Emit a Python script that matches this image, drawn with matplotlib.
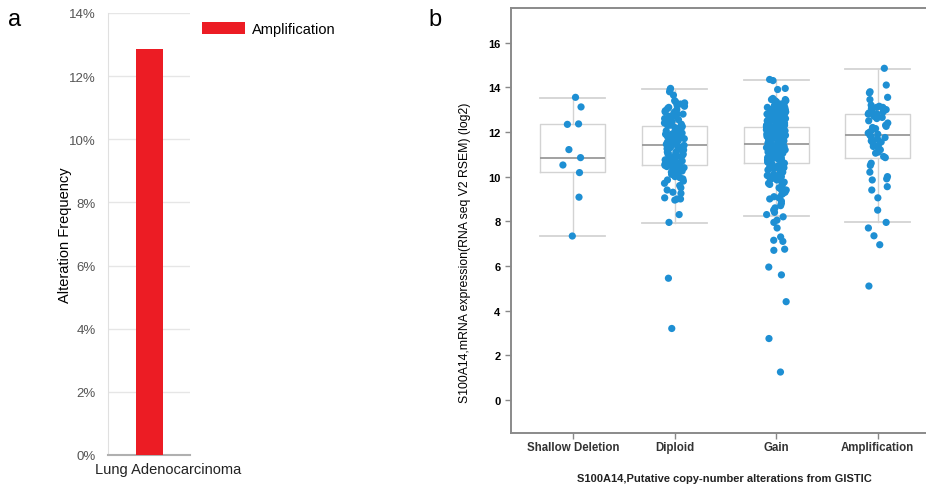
import numpy as np
import matplotlib
matplotlib.use('Agg')
import matplotlib.pyplot as plt

plt.rcParams['font.family'] = ['Liberation Sans', 'DejaVu Sans']

# panel a: alteration frequency
cancer_types = ['Lung Adenocarcinoma']
amp_freq = [12.85]
freq_ticks = [0, 2, 4, 6, 8, 10, 12, 14]

# panel b: S100A14 expression per copy-number group
groups = ['Shallow Deletion', 'Diploid', 'Gain', 'Amplification']

shallow_vals = [13.55, 13.12, 12.36, 12.34, 11.21, 10.85, 10.52, 10.18, 9.08, 7.34]

diploid_vals = [
    13.95, 13.9, 13.8, 13.65, 13.4, 13.35, 13.3, 13.25, 13.2, 13.15, 13.1, 13.05,
    13.0, 12.95, 12.9, 12.9, 12.85, 12.8, 12.8, 12.75, 12.7, 12.7, 12.6, 12.6,
    12.55, 12.5, 12.45, 12.4, 12.35, 12.3, 12.3, 12.25, 12.2, 12.2, 12.15, 12.1,
    12.05, 12.0, 12.0, 11.95, 11.9, 11.9, 11.9, 11.85, 11.8, 11.8, 11.75, 11.7,
    11.7, 11.65, 11.6, 11.6, 11.6, 11.55, 11.5, 11.5, 11.45, 11.45, 11.4, 11.4,
    11.35, 11.3, 11.3, 11.3, 11.25, 11.2, 11.2, 11.15, 11.1, 11.1, 11.05, 11.0,
    11.0, 11.0, 10.95, 10.9, 10.9, 10.85, 10.8, 10.8, 10.75, 10.7, 10.7, 10.65,
    10.6, 10.6, 10.55, 10.5, 10.5, 10.45, 10.4, 10.4, 10.35, 10.3, 10.25, 10.2,
    10.2, 10.15, 10.1, 10.0, 9.95, 9.9, 9.85, 9.8, 9.7, 9.6, 9.5, 9.4, 9.3,
    9.25, 9.05, 9.0, 9.0, 8.95, 8.3, 7.95, 5.45, 3.2,
]

gain_vals = [
    14.35, 14.3, 13.95, 13.9,
    13.5, 13.45, 13.45, 13.4, 13.4, 13.35, 13.3, 13.3, 13.25, 13.2, 13.2, 13.2,
    13.15, 13.1, 13.1, 13.1, 13.05, 13.0, 13.0, 13.0, 12.95, 12.95, 12.9, 12.9,
    12.9, 12.85, 12.85, 12.8, 12.8, 12.8, 12.75, 12.75, 12.7, 12.7, 12.7, 12.65,
    12.65, 12.6, 12.6, 12.6, 12.55, 12.55, 12.5, 12.5, 12.5, 12.45, 12.45, 12.4,
    12.4, 12.4, 12.35, 12.35, 12.3, 12.3, 12.3, 12.25, 12.25, 12.2, 12.2, 12.2,
    12.15, 12.15, 12.1, 12.1, 12.1, 12.05, 12.05, 12.0, 12.0, 12.0, 11.95, 11.95,
    11.9, 11.9, 11.9, 11.85, 11.85, 11.8, 11.8, 11.8, 11.75, 11.75, 11.7, 11.7,
    11.7, 11.65, 11.65, 11.6, 11.6, 11.6, 11.55, 11.55, 11.5, 11.5, 11.5, 11.45,
    11.45, 11.4, 11.4, 11.4, 11.35, 11.35, 11.3, 11.3, 11.3, 11.25, 11.25, 11.2,
    11.2, 11.2, 11.15, 11.15, 11.1, 11.1, 11.1, 11.05, 11.05, 11.0, 11.0, 11.0,
    10.95, 10.95, 10.9, 10.9, 10.85, 10.85, 10.8, 10.8, 10.75, 10.75, 10.7, 10.7,
    10.65, 10.65, 10.6, 10.6, 10.55, 10.5, 10.5, 10.45, 10.4, 10.4, 10.35, 10.3,
    10.3, 10.25, 10.2, 10.2, 10.15, 10.1, 10.05, 10.0, 10.0, 9.95, 9.9, 9.85,
    9.8, 9.75, 9.7, 9.65, 9.6, 9.5, 9.45, 9.4, 9.3, 9.25, 9.2, 9.1, 9.05, 9.0,
    8.9, 8.8, 8.7, 8.6, 8.5, 8.4, 8.3, 8.2, 8.05, 7.95,
    7.7, 7.3, 7.15, 7.1, 6.75, 6.7, 5.95, 5.6, 4.4, 2.75, 1.25,
]

amp_vals = [
    14.85, 14.1, 13.8, 13.75, 13.55, 13.45, 13.2, 13.15, 13.1, 13.1, 13.05, 13.0,
    12.95, 12.9, 12.85, 12.8, 12.8, 12.75, 12.7, 12.65, 12.6, 12.5, 12.4, 12.3,
    12.25, 12.2, 12.15, 12.1, 12.0, 11.95, 11.9, 11.85, 11.8, 11.75, 11.7, 11.6,
    11.55, 11.5, 11.4, 11.35, 11.3, 11.2, 11.1, 11.05, 10.9, 10.85, 10.6, 10.5,
    10.2, 10.0, 9.9, 9.85, 9.55, 9.4, 9.05, 8.5, 7.95, 7.7, 7.35, 6.95, 5.1,
]

# box summaries per group
box_q1 = [10.2, 10.54, 10.61, 10.84]
box_med = [10.85, 11.42, 11.46, 11.86]
box_q3 = [12.36, 12.26, 12.24, 12.81]
whisk_lo = [7.33, 7.94, 8.25, 7.97]
whisk_hi = [13.54, 13.94, 14.33, 14.82]

red = '#ec1c24'
blue = '#1e8fd3'

fig = plt.figure(figsize=(9.26, 4.89), dpi=100)

# ---- panel a
ax1 = fig.add_axes([108 / 926, 33 / 489, 82 / 926, 442 / 489])
ax1.bar([0], amp_freq, width=0.66, color=red, label='Amplification', zorder=3)
ax1.set_xlim(-1.01, 0.99)
ax1.set_ylim(0, 14)
ax1.set_yticks(freq_ticks)
ax1.set_yticklabels([f'{t}%' for t in freq_ticks], color='#555555', fontsize=9.5)
ax1.tick_params(axis='y', length=0, pad=9)
ax1.set_xticks([])
ax1.grid(axis='y', color='#e6e6e6', lw=1, zorder=0)
for s in ['top', 'right']:
    ax1.spines[s].set_visible(False)
ax1.spines['left'].set_color('#e0e0e0')
ax1.spines['bottom'].set_color('#b0b0b0')
ax1.spines['bottom'].set_linewidth(1.5)
ax1.set_ylabel('Alteration Frequency', fontsize=10.5, labelpad=-2)
ax1.text(0.73, -0.032, cancer_types[0], transform=ax1.transAxes,
         ha='center', va='center', fontsize=10.5, color='#222222')
ax1.legend(loc='upper left', bbox_to_anchor=(202 / 926, 1 - 23 / 489),
           bbox_transform=fig.transFigure, frameon=False, fontsize=10.5,
           handlelength=2.95, handleheight=0.9, handletextpad=0.5,
           borderpad=0, borderaxespad=0)
fig.text(15 / 926, 1 - 20 / 489, 'a', fontsize=17, ha='center', va='center')

# ---- panel b
ax2 = fig.add_axes([511 / 926, 55 / 489, 449 / 926, 425 / 489])
stats = []
for i, g in enumerate(groups):
    stats.append(dict(label=g, q1=box_q1[i], med=box_med[i], q3=box_q3[i],
                      whislo=whisk_lo[i], whishi=whisk_hi[i], fliers=[]))
box_col = '#d3d3d3'
ax2.bxp(stats, positions=range(len(groups)), widths=0.64, capwidths=0.64,
        showfliers=False,
        boxprops=dict(color=box_col, lw=1),
        whiskerprops=dict(color=box_col, lw=1),
        capprops=dict(color=box_col, lw=1.3),
        medianprops=dict(color='#9a9a9a', lw=1.3))

rng = np.random.default_rng(7)
for i, vals in enumerate([shallow_vals, diploid_vals, gain_vals, amp_vals]):
    jit = rng.uniform(-0.1, 0.1, len(vals))
    ax2.scatter(i + jit, vals, s=27, color=blue, edgecolors='none', zorder=3)

ax2.set_xlim(-0.61, 3.81)
ax2.set_ylim(-1.48, 17.55)
ax2.set_yticks(range(0, 17, 2))
ax2.set_xticks(range(len(groups)))
ax2.set_xticklabels(groups, fontsize=8.3, fontweight='bold', color='#333333')
for lab in ax2.get_yticklabels():
    lab.set_fontweight('bold')
    lab.set_fontsize(8)
ax2.tick_params(axis='both', color='#888888', length=4, width=1)
ax2.tick_params(axis='x', pad=2)
for s in ['top', 'left', 'bottom', 'right']:
    ax2.spines[s].set_color('#8a8a8a')
    ax2.spines[s].set_linewidth(1.4)
ax2.set_ylabel('S100A14,mRNA expression(RNA seq V2 RSEM) (log2)', fontsize=8.8)
ax2.yaxis.set_label_coords(-0.088, 0.426)
ax2.set_xlabel('S100A14,Putative copy-number alterations from GISTIC',
               fontsize=8, fontweight='bold', color='#222222')
ax2.xaxis.set_label_coords(0.476, -0.093)
fig.text(435 / 926, 1 - 20 / 489, 'b', fontsize=17, ha='center', va='center')

fig.savefig('out.png', dpi=100)
